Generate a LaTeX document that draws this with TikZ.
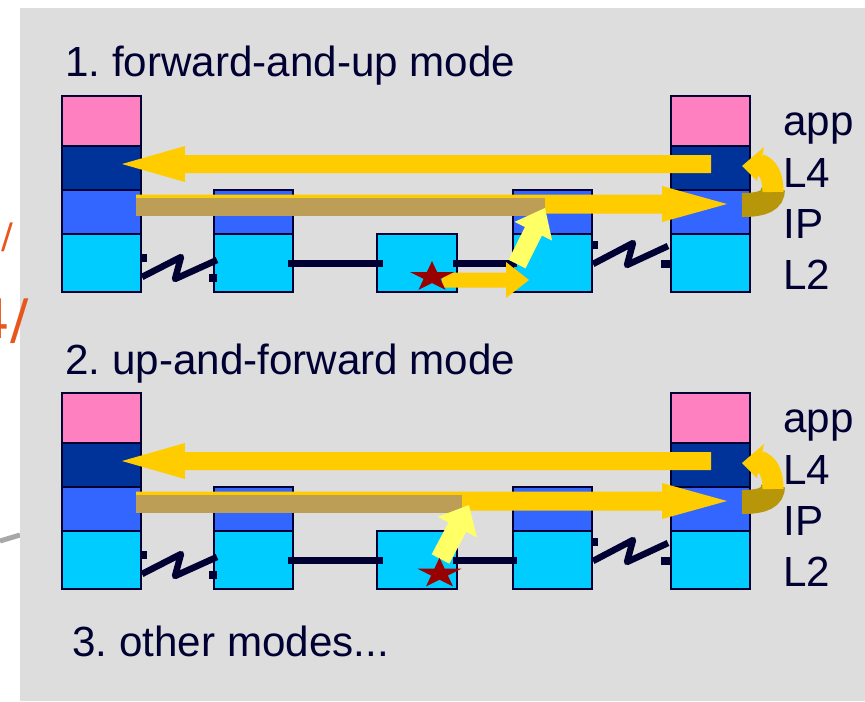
\documentclass[tikz,border=0pt]{standalone}
\usepackage{fontspec}
\setmainfont{Liberation Sans}
\newfontfamily\orfont{DejaVu Sans}
\usetikzlibrary{calc}
\frenchspacing
\definecolor{panel}{HTML}{DDDDDD}
\definecolor{appc}{HTML}{FF80C0}
\definecolor{lfour}{HTML}{003399}
\definecolor{ipc}{HTML}{3366FF}
\definecolor{ltwo}{HTML}{00CCFF}
\definecolor{ink}{HTML}{000033}
\definecolor{gold}{HTML}{FFCC00}
\definecolor{tanc}{HTML}{BD9E56}
\definecolor{dgold}{HTML}{B8960A}
\definecolor{lyel}{HTML}{FFFF66}
\definecolor{starred}{HTML}{990000}
\definecolor{orng}{HTML}{E8561E}
\definecolor{gline}{HTML}{A8A8A8}
\tikzset{
  layer/.style={draw=ink, line width=1.2pt, inner sep=0pt, outer sep=0pt, rectangle},
  lbl/.style={font=\fontsize{24}{28}\selectfont, text=ink, inner sep=0pt, anchor=base west},
  linkline/.style={draw=ink, line width=0.14cm},
  zigline/.style={draw=ink, line width=0.13cm, line join=round},
  stub/.style={fill=ink},
  ortext/.style={text=orng, inner sep=0pt, anchor=base east},
}
% name, x1, y1, x2, y2, colour
\newcommand\lbox[6]{\node[layer,fill=#6,minimum width={(#4-#2)*0.02cm},minimum height={(#5-#3)*0.02cm}] (#1) at ({(#2+#4)/2},{(#3+#5)/2}) {};}
% start, tip, half shaft, half head, head length, colour
\newcommand\barrow[6]{%
  \coordinate (bS) at #1; \coordinate (bT) at #2;
  \coordinate (bB) at ($(bT)!#5!(bS)$);
  \fill[#6] ($(bS)!#3!90:(bT)$) -- ($(bB)!#3!-90:(bS)$) -- ($(bB)!#4!-90:(bS)$) -- (bT)
    -- ($(bB)!#4!90:(bS)$) -- ($(bB)!#3!90:(bS)$) -- ($(bS)!#3!-90:(bT)$) -- cycle;}
\newcommand\starshape[2]{\fill[starred, shift={(#1,#2)}, yscale=0.69] (-90:23) -- (-54:8.8) -- (-18:23) -- (18:8.8) -- (54:23) -- (90:8.8) -- (126:23) -- (162:8.8) -- (198:23) -- (234:8.8) -- cycle;}
\newcommand\uturn{%
  \draw[dgold, line width=0.48cm] (742,205) .. controls (764,205) and (773,200) .. (773,189);
  \draw[gold, line width=0.42cm] (773,192) .. controls (773,176) and (768,167) .. (759,164);
  \fill[gold] (764,147) -- (742,166) -- (757,181) -- cycle;}
\newcommand\netrow[2]{%
\begin{scope}[shift={(0,#2)}]
\lbox{aApp#1}{62}{96}{141}{146}{appc}
\lbox{aL4#1}{62}{146}{141}{190}{lfour}
\lbox{aIP#1}{62}{190}{141}{234}{ipc}
\lbox{aL2#1}{62}{234}{141}{292}{ltwo}
\lbox{rIP#1}{214}{190}{293}{234}{ipc}
\lbox{rL2#1}{214}{234}{293}{292}{ltwo}
\lbox{sw#1}{377}{234}{457}{292}{ltwo}
\lbox{qIP#1}{513}{190}{592}{234}{ipc}
\lbox{qL2#1}{513}{234}{592}{292}{ltwo}
\lbox{bApp#1}{671}{96}{750}{146}{appc}
\lbox{bL4#1}{671}{146}{750}{190}{lfour}
\lbox{bIP#1}{671}{190}{750}{234}{ipc}
\lbox{bL2#1}{671}{234}{750}{292}{ltwo}
% serial link A - R1
\fill[stub] ([shift={(0,-9)}]aL2#1.east) rectangle ++(6,8);
\fill[stub] ([shift={(-5,11)}]rL2#1.west) rectangle ++(8,8);
\draw[zigline] ([shift={(1,14)}]aL2#1.east) -- ++(39,-20) -- ++(-6,22) -- ([shift={(3,-3)}]rL2#1.west);
% ethernet links
\draw[linkline] ([shift={(-5,0)}]rL2#1.east) -- ([shift={(6,0)}]sw#1.west);
\draw[linkline] ([shift={(-4,0)}]sw#1.east) -- ([shift={(4,0)}]qL2#1.west);
% serial link R2 - B
\fill[stub] ([shift={(0,-22)}]qL2#1.east) rectangle ++(6,8);
\fill[stub] ([shift={(-10,-3)}]bL2#1.west) rectangle ++(9,8);
\draw[zigline] ([shift={(1,1)}]qL2#1.east) -- ++(40,-21) -- ++(-6,22) -- ([shift={(-3,-17)}]bL2#1.west);
% layer labels
\node[lbl] (app#1) at (783,135) {app};
\node[lbl] (lfour#1) at (783,187) {L4};
\node[lbl] (lip#1) at (783,238) {IP};
\node[lbl] (ltwo#1) at (783,289) {L2};
\end{scope}}
\begin{document}
\begin{tikzpicture}[x=0.02cm, y=-0.02cm]
\useasboundingbox (0,0) rectangle (865,701);
\fill[white] (0,0) rectangle (865,701);
\coordinate (g1) at (0,541); \coordinate (g2) at (20,535);
\draw[gline, line width=0.1cm] (g1) -- (g2);
\fill[panel] (20,8) rectangle (865,701);
\node[ortext, font=\fontsize{20}{24}\orfont] (or1) at (14,248) {/};
\node[ortext, font=\fontsize{31}{36}\orfont] (or2) at (29,338) {4/};
% titles
\node[lbl] (t1) at (65,76) {1. forward-and-up mode};
\node[lbl] (t2) at (65,374) {2. up-and-forward mode};
\node[lbl] (t3) at (72,656) {3. other modes...};
\netrow{1}{0}
\netrow{2}{297}
% section 1 arrows
\begin{scope}
\barrow{([shift={(0.5,-4)}]bL41.center)}{([shift={(20.5,-4)}]aL41.center)}{0.18cm}{0.36cm}{1.26cm}{gold}
\barrow{([shift={(34.5,-8)}]aIP1.center)}{([shift={(16.5,-8)}]bIP1.center)}{0.19cm}{0.36cm}{1.3cm}{gold}
\fill[tanc] ([shift={(34.5,-14)}]aIP1.center) rectangle (545,216);
\uturn
\barrow{(517,264)}{(545,208)}{0.19cm}{0.42cm}{0.52cm}{lyel}
\barrow{(442,280)}{(529,280)}{0.15cm}{0.36cm}{0.46cm}{gold}
\starshape{432}{277}
\end{scope}
% section 2 arrows
\begin{scope}[shift={(0,297)}]
\barrow{([shift={(0.5,-4)}]bL42.center)}{([shift={(20.5,-4)}]aL42.center)}{0.18cm}{0.36cm}{1.26cm}{gold}
\barrow{([shift={(34.5,-8)}]aIP2.center)}{([shift={(16.5,-8)}]bIP2.center)}{0.19cm}{0.36cm}{1.3cm}{gold}
\fill[tanc] ([shift={(34.5,-14)}]aIP2.center) rectangle (462,216);
\uturn
\barrow{(440.5,262)}{(469,208)}{0.2cm}{0.44cm}{0.5cm}{lyel}
\starshape{439.5}{276.6}
\end{scope}
\end{tikzpicture}
\end{document}
